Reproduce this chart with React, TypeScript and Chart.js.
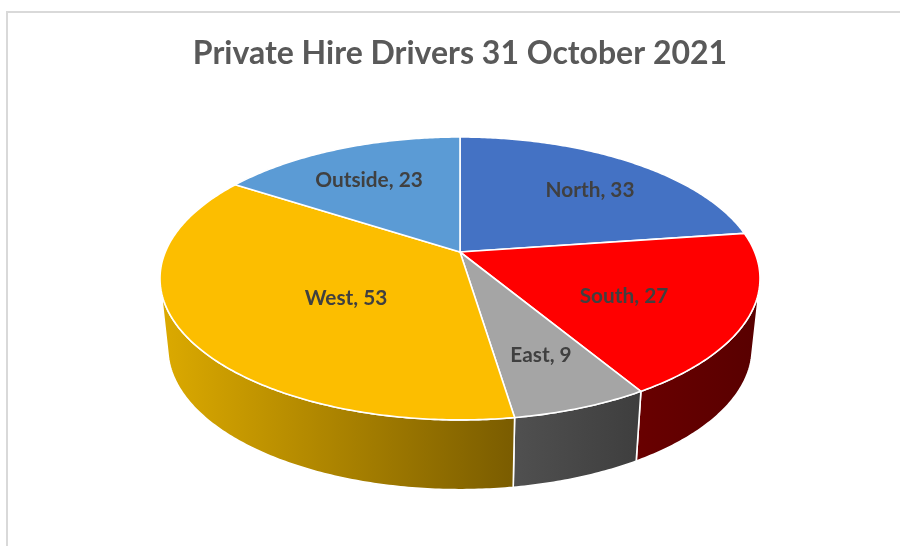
import React, { useEffect, useRef } from "react";
import { Chart, registerables } from "chart.js";

Chart.register(...registerables);

const titleText = "Private Hire Drivers 31 October 2021";
const categories = ["North", "South", "East", "West", "Outside"];
const drivers = [33, 27, 9, 53, 23];
const topColours = ["#4472c4", "#ff0000", "#a5a5a5", "#fcbe00", "#5b9bd5"];
const sideLeftColours = ["#2f5597", "#690000", "#505050", "#dcaa00", "#3f6f9e"];
const sideRightColours = ["#2f5597", "#580000", "#3e3e3e", "#7a5c00", "#3f6f9e"];
const labelCentres = [
  [590, 190],
  [624, 296],
  [541, 355],
  [346, 298],
  [369, 180],
];

// Perspective view of the pie's disc
const view = { cx: 460, cy: 252, a: 294.7, b: 136.5, k: 0.187, depth: 69.8, shrink: 0.974 };

const topPoint = (theta: number, r = 1) => {
  const x = r * Math.sin(theta);
  const y = -r * Math.cos(theta);
  const w = 1 - view.k * y;
  return [view.cx + (view.a * x) / w, view.cy + (view.b * y) / w];
};
const basePoint = (theta: number) => {
  const [x, y] = topPoint(theta);
  return [view.cx + (x - view.cx) * view.shrink, y + view.depth];
};

const pie3d = {
  id: "pie3d",
  beforeDatasetDraw(chart: any) {
    const ctx = chart.ctx as CanvasRenderingContext2D;
    const arcs = chart.getDatasetMeta(0).data;
    const thetaOf = (angle: number) => angle + Math.PI / 2;
    ctx.save();
    ctx.lineJoin = "round";
    ctx.strokeStyle = "#ffffff";
    ctx.lineWidth = 1.6;

    // side walls: only the parts of each slice's rim that face the viewer
    arcs.forEach((arc: any, i: number) => {
      const t0 = thetaOf(arc.startAngle);
      const t1 = thetaOf(arc.endAngle);
      const n = Math.max(2, Math.ceil((t1 - t0) * 90));
      const upper: number[][] = [];
      const lower: number[][] = [];
      for (let s = 0; s <= n; s++) {
        const t = t0 + ((t1 - t0) * s) / n;
        const p = topPoint(t);
        const q = basePoint(t);
        const pn = topPoint(t + 0.001);
        const cross = (pn[0] - p[0]) * (q[1] - p[1]) - (pn[1] - p[1]) * (q[0] - p[0]);
        if (cross < 0) {
          upper.push(p);
          lower.push(q);
        }
      }
      if (upper.length < 2) return;
      const all = upper.concat(lower);
      const xs = all.map((p) => p[0]);
      const g = ctx.createLinearGradient(Math.min(...xs), 0, Math.max(...xs), 0);
      g.addColorStop(0, sideLeftColours[i]);
      g.addColorStop(1, sideRightColours[i]);
      ctx.beginPath();
      upper.forEach((p, j) => (j ? ctx.lineTo(p[0], p[1]) : ctx.moveTo(p[0], p[1])));
      lower.reverse().forEach((p) => ctx.lineTo(p[0], p[1]));
      ctx.closePath();
      ctx.fillStyle = g;
      ctx.fill();
      ctx.stroke();
    });

    // top faces
    arcs.forEach((arc: any, i: number) => {
      const t0 = thetaOf(arc.startAngle);
      const t1 = thetaOf(arc.endAngle);
      const n = Math.ceil((t1 - t0) * 90);
      ctx.beginPath();
      ctx.moveTo(view.cx, view.cy);
      for (let s = 0; s <= n; s++) {
        const p = topPoint(t0 + ((t1 - t0) * s) / n);
        ctx.lineTo(p[0], p[1]);
      }
      ctx.closePath();
      ctx.fillStyle = arc.options.backgroundColor;
      ctx.fill();
      ctx.stroke();
    });

    // data labels
    ctx.fillStyle = "#404040";
    ctx.font = "bold 20.8px Lato";
    ctx.textAlign = "center";
    ctx.textBaseline = "middle";
    arcs.forEach((_: any, i: number) => {
      const [x, y] = labelCentres[i];
      ctx.fillText(`${chart.data.labels[i]}, ${chart.data.datasets[0].data[i]}`, x, y);
    });
    ctx.restore();
    return false;
  },
};

export default function App() {
  const ref = useRef<HTMLCanvasElement>(null);
  useEffect(() => {
    const chart = new Chart(ref.current!, {
      type: "pie",
      data: {
        labels: categories,
        datasets: [{ data: drivers, backgroundColor: topColours }],
      },
      options: {
        animation: false,
        responsive: false,
        layout: { padding: { left: 20 } },
        plugins: {
          legend: { display: false },
          tooltip: { enabled: false },
          title: {
            display: true,
            text: titleText,
            color: "#595959",
            font: { family: "Lato", size: 32, weight: "bold" },
            padding: { top: 34, bottom: 10 },
          },
        },
      },
      plugins: [pie3d],
    } as any);
    return () => chart.destroy();
  }, []);
  return (
    <div style={{ position: "fixed", left: 0, top: 0, width: 900, height: 546, background: "#fff" }}>
      <canvas ref={ref} width={900} height={546} style={{ position: "absolute", left: 0, top: 0 }} />
      <div
        style={{
          position: "absolute",
          left: 6,
          top: 11,
          right: 0,
          bottom: 0,
          borderLeft: "2px solid #d9d9d9",
          borderTop: "2px solid #d9d9d9",
          pointerEvents: "none",
        }}
      />
    </div>
  );
}
